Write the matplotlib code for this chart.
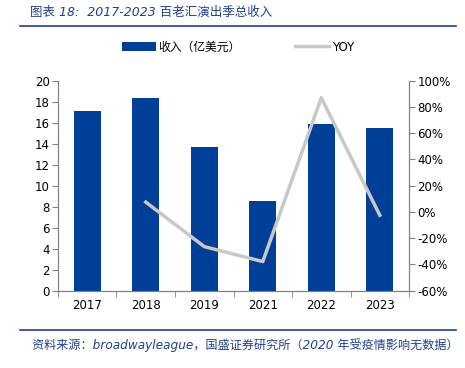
import numpy as np
import matplotlib.pyplot as plt
from matplotlib.patches import Patch
from matplotlib.lines import Line2D
from matplotlib.ticker import FuncFormatter, FixedLocator

plt.rcParams['font.family'] = ['DejaVu Sans', 'Noto Sans CJK SC']

years = ['2017', '2018', '2019', '2021', '2022', '2023']
revenue = [17.1, 18.4, 13.7, 8.5, 15.9, 15.5]
yoy = [np.nan, 7.5, -26.4, -37.8, 87.0, -2.5]

bar_color = '#003f98'
line_color = '#c8c8c8'
text_blue = '#1f3f8f'
axis_grey = '#808080'

fig = plt.figure(figsize=(4.65, 3.68), dpi=100)
ax = fig.add_axes([0.1247, 0.21, 0.755, 0.5707])
x = np.arange(len(years))

ax.bar(x, revenue, width=0.46, color=bar_color, zorder=2)
ax.set_ylim(0, 20)
ax.set_yticks(range(0, 21, 2))
ax.set_xlim(-0.5, len(years) - 0.5)
ax.set_xticks(x)
ax.set_xticklabels(years)
ax.xaxis.set_minor_locator(FixedLocator(np.arange(-0.5, len(years), 1)))
ax.tick_params(axis='x', which='major', length=0, pad=6, labelsize=8.5)
ax.tick_params(axis='x', which='minor', length=4, color=axis_grey, direction='out')
ax.tick_params(axis='y', length=4, color=axis_grey, labelsize=8.5, pad=2)

ax2 = ax.twinx()
ax2.plot(x, yoy, color=line_color, lw=2.5, zorder=3)
ax2.set_ylim(-60, 100)
ax2.set_yticks(range(-60, 101, 20))
ax2.yaxis.set_major_formatter(FuncFormatter(lambda v, p: f'{v:.0f}%'))
ax2.tick_params(axis='y', length=4, color=axis_grey, labelsize=8.5, pad=2)

for a in (ax, ax2):
    a.spines['top'].set_visible(False)
    for s in ('left', 'right', 'bottom'):
        a.spines[s].set_color(axis_grey)
        a.spines[s].set_linewidth(0.8)

handles = [Patch(facecolor=bar_color, edgecolor='none'),
           Line2D([0], [0], color=line_color, lw=2.5)]
fig.legend(handles, ['收入（亿美元）', 'YOY'], loc='center left', bbox_to_anchor=(0.262, 0.872),
           ncol=2, frameon=False, fontsize=8.5, handlelength=2.9, handleheight=0.8,
           handletextpad=0.2, columnspacing=4.6, borderaxespad=0, borderpad=0)

fig.text(0.065, 0.965, '图表 18:  2017-2023 百老汇演出季总收入', fontsize=9, style='italic',
         color=text_blue, va='center', ha='left')
fig.add_artist(Line2D([0.043, 0.98], [0.928, 0.928], color=text_blue, lw=1.2))
fig.add_artist(Line2D([0.043, 0.98], [0.103, 0.103], color=text_blue, lw=1.2))
fig.text(0.068, 0.063, '资料来源：broadwayleague，国盛证券研究所（2020 年受疫情影响无数据）',
         fontsize=8.7, style='italic', color=text_blue, va='center', ha='left')

fig.savefig('out.png', dpi=100)
